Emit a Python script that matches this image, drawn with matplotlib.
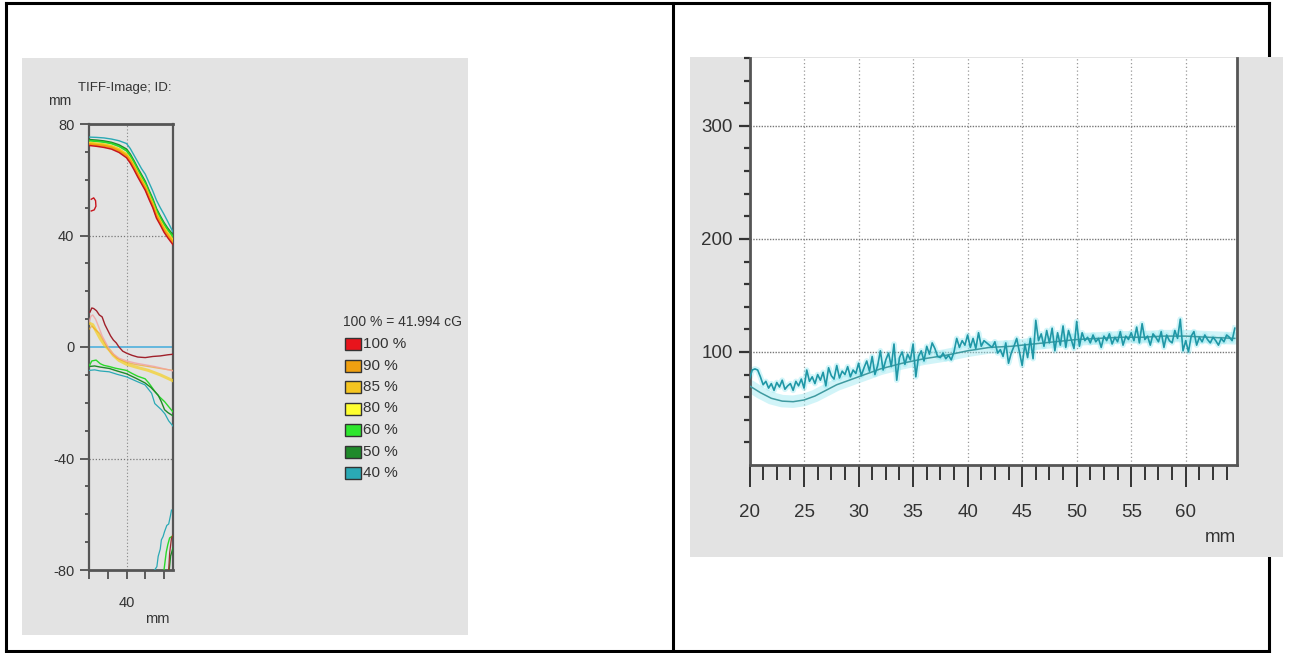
import numpy as np
import matplotlib
matplotlib.use("Agg")
import matplotlib.pyplot as plt
from matplotlib.patches import Rectangle
from matplotlib.lines import Line2D

# ---------------- isodose chart data (mm) ----------------
iso_levels = ["100 %", "90 %", "85 %", "80 %", "60 %", "50 %", "40 %"]
iso_colors = ["#e8141c", "#f0a010", "#f5c520", "#ffff30", "#2ee62e", "#1f8a2a", "#2aa9b5"]
dose_ref_label = "100 % = 41.994 cG"

top_x = [20, 24, 28, 32, 36, 40, 42, 44, 46, 48, 50, 52, 54, 56, 58, 60, 62, 64.8]
top_red = [72.3, 72.0, 71.6, 71.0, 69.8, 67.9, 66.0, 63.6, 61.0, 58.6, 56.2, 53.0, 50.0, 46.2, 43.8, 41.2, 39.2, 36.7]
top_orange = [72.8, 72.5, 72.2, 71.6, 70.4, 68.6, 66.8, 64.4, 61.8, 59.4, 57.0, 53.8, 50.8, 47.0, 44.6, 42.0, 40.0, 37.6]
top_yellow = [73.3, 73.0, 72.7, 72.1, 71.0, 69.2, 67.4, 65.0, 62.4, 60.0, 57.6, 54.4, 51.4, 47.8, 45.2, 42.8, 40.8, 38.4]
top_green = [74.0, 73.8, 73.5, 73.0, 72.0, 70.4, 68.6, 66.2, 63.6, 61.2, 58.8, 55.6, 52.6, 49.0, 46.4, 44.0, 42.0, 39.6]
top_dgreen = [74.4, 74.2, 73.9, 73.4, 72.5, 71.0, 69.2, 66.8, 64.2, 61.8, 59.4, 56.2, 53.2, 49.6, 47.0, 44.6, 42.6, 40.2]
top_teal = [75.3, 75.2, 75.0, 74.6, 74.0, 73.0, 71.2, 68.8, 66.4, 64.0, 62.0, 59.0, 56.0, 52.6, 50.0, 47.6, 45.0, 41.2]

mid_red_x = [20.5, 21.5, 22.5, 24, 25.5, 27, 28.5, 30, 31.5, 33, 34.5, 36, 38, 40, 43, 46, 50, 54, 58, 62, 64.8]
mid_red_y = [12.5, 14.0, 13.8, 13.0, 11.5, 10.8, 8.0, 6.0, 4.0, 2.5, 1.5, 0.0, -1.5, -2.2, -3.0, -3.6, -3.8, -3.4, -3.2, -2.8, -2.6]
mid_pink_x = [20, 21, 22, 23.5, 25, 27, 29, 31, 33, 36, 40, 45, 50, 55, 60, 64.8]
mid_pink_y = [9.0, 11.0, 11.5, 10.0, 7.5, 4.0, 1.5, -1.0, -2.5, -4.0, -5.0, -5.8, -6.4, -7.0, -7.8, -8.6]
mid_orange_x = [20, 21.5, 23, 25.6, 28, 30.5, 32.5, 35, 40, 45, 51.7, 57, 64.8]
mid_orange_y = [6.4, 7.5, 6.5, 4.9, 2.0, -1.0, -2.5, -4.0, -5.5, -6.3, -7.0, -7.6, -8.4]
mid_yellow_x = [20, 22, 24, 26, 28.5, 30.8, 33, 36, 40, 45, 51.7, 58, 64.8]
mid_yellow_y = [8.6, 8.0, 5.5, 3.0, 0.5, -1.0, -3.0, -4.8, -6.2, -7.2, -8.4, -10.0, -12.1]
mid_green_x = [20, 21.5, 23.8, 26, 28, 30.8, 34, 37, 40, 43, 46, 49.9, 52, 55.1, 57, 60.3, 62, 64.8]
mid_green_y = [-7.0, -5.0, -4.7, -6.0, -6.6, -7.0, -7.6, -8.0, -8.4, -9.5, -10.5, -11.4, -13.0, -15.9, -17.5, -19.6, -21.0, -23.3]
mid_dgreen_x = [20, 23, 26, 30.8, 35, 40, 45, 49.9, 53, 56.9, 58.5, 60.3, 62, 64.8]
mid_dgreen_y = [-7.0, -6.8, -7.2, -7.7, -8.6, -9.6, -11.2, -12.9, -14.5, -17.3, -19.5, -22.5, -23.5, -24.7]
mid_teal_x = [20, 23, 26, 30.8, 35, 40, 45, 49.9, 53.4, 55.1, 57, 58.6, 60.5, 62.5, 64.8]
mid_teal_y = [-8.4, -8.2, -8.6, -8.9, -9.8, -10.7, -12.2, -13.6, -16.6, -20.3, -21.5, -22.5, -24.0, -26.5, -28.4]

bot_teal_x = [55.0, 56.2, 56.9, 58.0, 58.6, 59.5, 60.3, 61.5, 62.5, 63.5, 64.0]
bot_teal_y = [-80, -78.8, -75.1, -72.5, -69.2, -68.0, -66.2, -64.0, -63.5, -60.3, -58.5]
bot_green_x = [60.0, 61.2, 62.0, 63.0, 64.8]
bot_green_y = [-80, -73.6, -71.0, -68.5, -67.7]
bot_dgreen_x = [62.8, 63.5, 64.8]
bot_dgreen_y = [-80, -75, -72.1]
bot_red_x = [62.5, 63.0, 64.0, 64.8]
bot_red_y = [-80, -74, -68.5, -67.5]

spot_x = [21.2, 22.5, 23.5, 23.7, 22.8, 21.2]
spot_y = [53.0, 53.5, 52.5, 50.5, 49.2, 48.8]

# ---------------- profile chart data ----------------
profile_start_mm = 20.0
profile_step_mm = 0.25
profile_values = [
    76, 84, 85, 84, 78, 71, 74, 68, 72, 66, 73, 69, 75, 67, 70, 72, 66, 74, 70, 76,
    68, 84, 74, 78, 72, 80, 75, 82, 70, 86, 79, 76, 88, 77, 83, 80, 87, 78, 84, 81,
    90, 79, 86, 92, 83, 96, 80, 88, 101, 84, 93, 99, 87, 107, 75, 95, 100, 89, 98, 93,
    107, 78, 96, 101, 92, 105, 98, 108, 103, 96, 95, 99, 94, 97, 93, 100, 112, 104, 110, 106,
    115, 104, 112, 103, 117, 105, 110, 108, 106, 104, 109, 99, 102, 96, 108, 90, 99, 105, 112, 100,
    88, 107, 95, 112, 94, 128, 110, 116, 105, 119, 108, 121, 101, 117, 106, 123, 104, 119, 111, 103,
    127, 105, 117, 110, 113, 108, 115, 109, 112, 104, 114, 110, 116, 107, 113, 109, 118, 106, 114, 111,
    117, 110, 122, 108, 125, 111, 114, 106, 116, 113, 109, 118, 104, 115, 110, 108, 119, 112, 129, 101,
    110, 100, 114, 118, 106, 113, 109, 115, 111, 108, 113, 110, 106, 112, 109, 115, 113, 110, 121,
]
smooth_x = [20, 21, 22, 23, 24, 25, 26, 27, 28, 30, 32, 34, 36, 38, 40, 42, 44, 46, 48, 50, 52, 54, 56, 58, 60, 62, 64.5]
smooth_y = [70, 64, 59, 56.5, 56, 57.5, 61, 66, 71, 78, 85, 90, 94, 97, 101, 104, 105, 107, 109, 111, 112, 113, 113, 114, 114, 113, 112]

profile_xticks = [20, 25, 30, 35, 40, 45, 50, 55, 60]
profile_yticks = [100, 200, 300]

# ---------------- figure layout ----------------
W, H = 1289, 653
fig = plt.figure(figsize=(W / 100, H / 100), dpi=100)
FONT = ["Liberation Sans", "DejaVu Sans"]
TXT = "#333333"


def box(x0, y0, x1, y1):
    return [x0 / W, 1 - y1 / H, (x1 - x0) / W, (y1 - y0) / H]


def fx(x):
    return x / W


def fy(y):
    return 1 - y / H


# table frame
for xs, ys in [((6, 1269), (3, 3)), ((6, 1269), (651, 651)), ((6, 6), (3, 651)),
               ((673, 673), (3, 651)), ((1269, 1269), (3, 651))]:
    fig.add_artist(Line2D([fx(v) for v in xs], [fy(v) for v in ys], color="black",
                          lw=2.2, transform=fig.transFigure, zorder=-10))

# grey panels
for x0, y0, x1, y1 in [(22, 58, 468, 635), (690, 57, 1283, 557)]:
    fig.add_artist(Rectangle((fx(x0), fy(y1)), (x1 - x0) / W, (y1 - y0) / H,
                             transform=fig.transFigure, facecolor="#e3e3e3",
                             edgecolor="none", zorder=-5))

# ---------------- left: isodose chart ----------------
ax1 = fig.add_axes(box(89, 124, 173, 570))
ax1.set_facecolor("none")
ax1.set_xlim(20, 64.8)
ax1.set_ylim(-80, 80)

for sp in ["left", "right"]:
    ax1.spines[sp].set_color("#555555")
    ax1.spines[sp].set_linewidth(1.6)
for sp in ["top", "bottom"]:
    ax1.spines[sp].set_color("#555555")
    ax1.spines[sp].set_linewidth(2.0)
    ax1.spines[sp].set_linestyle((0, (1, 1)))

ax1.set_yticks([-80, -40, 0, 40, 80])
ax1.set_yticklabels(["-80", "-40", "0", "40", "80"], family=FONT, fontsize=10.5, color=TXT)
ax1.set_yticks(np.arange(-70, 80, 10), minor=True)
ax1.set_xticks([20, 30, 40, 50, 60])
ax1.set_xticklabels(["", "", "40", "", ""], family=FONT, fontsize=10.5, color=TXT)
ax1.tick_params(axis="y", which="major", direction="out", length=6.5, width=1.2, color="#444", pad=4)
ax1.tick_params(axis="y", which="minor", direction="out", length=3, width=1.2, color="#444")
ax1.tick_params(axis="x", which="major", direction="out", length=6.5, width=1.2, color="#444", pad=12)

for v in [40, -40]:
    ax1.axhline(v, color="#777777", lw=0.9, ls=(0, (1, 1.5)), zorder=1)
ax1.axvline(40, color="#888888", lw=0.8, ls=(0, (1, 2)), zorder=1)
ax1.axhline(0, color="#4fb0dc", lw=1.2, zorder=2)

c_red, c_orange, c_yellow, c_green, c_dgreen, c_teal = (
    "#c8141c", "#f0a010", "#f5d020", "#2ad82a", "#1f8a2a", "#2aa9b5")

ax1.plot(top_x, top_teal, color=c_teal, lw=1.0, zorder=3)
ax1.plot(top_x, top_dgreen, color=c_dgreen, lw=1.2, zorder=3)
ax1.plot(top_x, top_green, color=c_green, lw=1.3, zorder=3)
ax1.plot(top_x, top_yellow, color=c_yellow, lw=1.6, zorder=3)
ax1.plot(top_x, top_orange, color=c_orange, lw=1.6, zorder=3)
ax1.plot(top_x, top_red, color=c_red, lw=1.1, zorder=4)

ax1.plot(mid_yellow_x, mid_yellow_y, color=c_yellow, lw=2.2, alpha=0.7, zorder=3)
ax1.plot(mid_orange_x, mid_orange_y, color=c_orange, lw=1.0, alpha=0.6, zorder=3)
ax1.plot(mid_pink_x, mid_pink_y, color="#f3a0a0", lw=1.0, alpha=0.8, zorder=3)
ax1.plot(mid_red_x, mid_red_y, color="#a0202a", lw=1.0, zorder=4)
ax1.plot(mid_green_x, mid_green_y, color=c_green, lw=1.0, zorder=3)
ax1.plot(mid_dgreen_x, mid_dgreen_y, color=c_dgreen, lw=1.0, zorder=3)
ax1.plot(mid_teal_x, mid_teal_y, color=c_teal, lw=0.9, zorder=3)

ax1.plot(bot_teal_x, bot_teal_y, color=c_teal, lw=0.9, zorder=3)
ax1.plot(bot_green_x, bot_green_y, color=c_green, lw=1.0, zorder=3)
ax1.plot(bot_dgreen_x, bot_dgreen_y, color=c_dgreen, lw=1.0, zorder=3)
ax1.plot(bot_red_x, bot_red_y, color="#9a3030", lw=0.9, zorder=3)
ax1.plot(spot_x, spot_y, color=c_red, lw=1.0, zorder=3)

fig.text(fx(48), fy(101), "mm", family=FONT, fontsize=10, color=TXT, va="center", ha="left")
fig.text(fx(78), fy(88), "TIFF-Image; ID:", family=FONT, fontsize=9.5, color=TXT, va="center", ha="left")
fig.text(fx(170), fy(619), "mm", family=FONT, fontsize=10.5, color=TXT, va="center", ha="right")

# legend
fig.text(fx(343), fy(322), dose_ref_label, family=FONT, fontsize=10, color=TXT, va="center", ha="left")
for i, (lab, col) in enumerate(zip(iso_levels, iso_colors)):
    yc = 344 + i * 21.5
    fig.add_artist(Rectangle((fx(345), fy(yc + 6)), 16 / W, 12 / H, transform=fig.transFigure,
                             facecolor=col, edgecolor="#333333", lw=1.0, zorder=2))
    fig.text(fx(363), fy(yc), lab, family=FONT, fontsize=11, color=TXT, va="center", ha="left")

# ---------------- right: dose profile ----------------
ax2 = fig.add_axes(box(749.5, 58, 1237, 465))
ax2.set_facecolor("white")
ax2.set_xlim(20, 64.7)
ax2.set_ylim(0, 360)
ax2.spines["top"].set_visible(False)
for sp in ["left", "bottom", "right"]:
    ax2.spines[sp].set_color("#555555")
    ax2.spines[sp].set_linewidth(2.0)

ax2.set_xticks(profile_xticks)
ax2.set_xticklabels([str(v) for v in profile_xticks], family=FONT, fontsize=13.5, color=TXT)
ax2.set_xticks(np.arange(20, 64.6, 1.25), minor=True)
ax2.set_yticks(profile_yticks)
ax2.set_yticklabels([str(v) for v in profile_yticks], family=FONT, fontsize=13.5, color=TXT)
ax2.set_yticks(np.arange(20, 361, 20), minor=True)
ax2.tick_params(axis="x", which="major", direction="out", length=16, width=1.4, color="#333", pad=12)
ax2.tick_params(axis="x", which="minor", direction="out", length=10.5, width=1.4, color="#333")
ax2.tick_params(axis="y", which="major", direction="out", length=8, width=1.6, color="#333", pad=4)
ax2.tick_params(axis="y", which="minor", direction="out", length=4, width=1.6, color="#333")

for v in profile_xticks[1:]:
    ax2.axvline(v, color="#999999", lw=0.9, ls=(0, (1, 2)), zorder=1)
for v in profile_yticks:
    ax2.axhline(v, color="#777777", lw=1.0, ls=(0, (1, 1)), zorder=1)

px = profile_start_mm + profile_step_mm * np.arange(len(profile_values))
ax2.plot(smooth_x, smooth_y, color="#9ae8f0", lw=9, alpha=0.45, solid_capstyle="round", zorder=2)
ax2.plot(px, profile_values, color="#7fe3ee", lw=4, alpha=0.35, zorder=2)
ax2.plot(smooth_x, smooth_y, color="#3f9aa0", lw=1.1, zorder=3)
ax2.plot(px, profile_values, color="#1f97a6", lw=1.2, zorder=4)

fig.text(fx(1236), fy(537), "mm", family=FONT, fontsize=13.5, color=TXT, va="center", ha="right")

fig.savefig("out.png", dpi=100)
